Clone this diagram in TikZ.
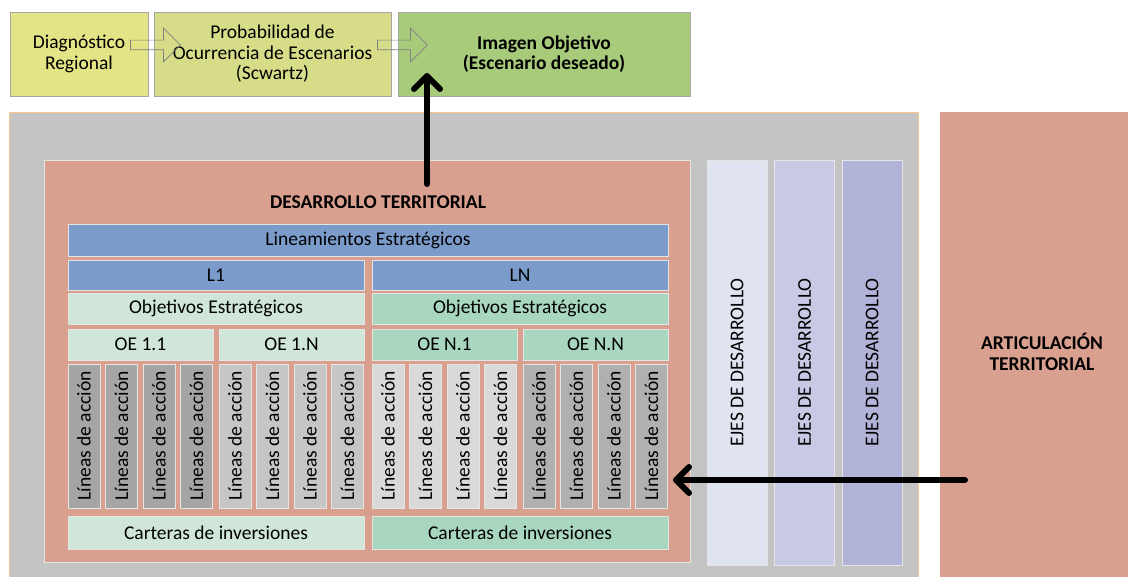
\documentclass[tikz,border=0pt]{standalone}
\usepackage{fontspec}
\setmainfont{Carlito}
\usetikzlibrary{arrows.meta,shapes.arrows}
\definecolor{diagc}{HTML}{E3E486}
\definecolor{probc}{HTML}{D6DC87}
\definecolor{imgc}{HTML}{A8CB7B}
\definecolor{panelc}{HTML}{C4C4C4}
\definecolor{salmon}{HTML}{D9A08F}
\definecolor{bluec}{HTML}{7B9CCB}
\definecolor{lgreen}{HTML}{CFE6D8}
\definecolor{mint}{HTML}{A8D6BE}
\definecolor{ejea}{HTML}{E0E3F0}
\definecolor{ejeb}{HTML}{C8C9E4}
\definecolor{ejec}{HTML}{B1B4D8}
\definecolor{grisa}{HTML}{A5A5A5}
\definecolor{grisb}{HTML}{C6C6C6}
\definecolor{grisc}{HTML}{D9D9D9}
\definecolor{grisd}{HTML}{B0B0B0}
\begin{document}
\begin{tikzpicture}[x=1pt,y=-1pt,every node/.style={font=\fontsize{19.5}{20.5}\selectfont,align=center,inner sep=0pt},
  topbox/.style={draw=gray!70,line width=0.8pt,minimum height=84},
  cell/.style={draw=white!80!gray,line width=0.8pt},
  bar/.style={cell,minimum width=296},
  linea/.style={cell,minimum width=144,minimum height=32,rotate=90},
  chev/.style={single arrow,draw=gray,line width=0.7pt,inner ysep=4.5pt,single arrow head extend=12pt,minimum height=50},
  bigarrow/.style={line width=6pt,line cap=round,-{Straight Barb[length=13pt,width=26pt,round]}}]
\useasboundingbox (0,0) rectangle (1128,577);
\node[topbox,fill=diagc,minimum width=138] (diag) at (79,54) {Diagnóstico\\Regional};
\node[topbox,fill=probc,minimum width=237] (prob) at (272.5,54) {Probabilidad de\\Ocurrencia de Escenarios\\(Scwartz)};
\node[topbox,fill=imgc,minimum width=292] (img) at (544,54) {\textbf{Imagen Objetivo}\\\textbf{(Escenario deseado)}};
\node[chev] (chev1) at (153,45) {};
\node[chev] (chev2) at (400,45) {};
\node[fill=panelc,draw=orange!45,line width=0.8pt,minimum width=909,minimum height=470] (panel) at (463.5,347) {};
\node[fill=salmon,minimum width=204,minimum height=480] (art) at (1042,352) {\textbf{ARTICULACIÓN}\\\textbf{TERRITORIAL}};
\node[cell,fill=salmon,minimum width=646,minimum height=402] (dt) at (367,361) {};
\node (dtlabel) at (378,202) {\textbf{DESARROLLO TERRITORIAL}};
\foreach \i/\c in {0/ejea,1/ejeb,2/ejec}
  \node[cell,fill=\c,minimum width=60,minimum height=405] (eje\i) at (737+\i*67.5,362.5) {\rotatebox{90}{EJES DE DESARROLLO}};
\node[cell,fill=bluec,minimum width=600,minimum height=32] (lin) at (368,240) {Lineamientos Estratégicos};
\node[bar,fill=bluec,minimum height=30] (l1) at (216,275) {L1};
\node[bar,fill=bluec,minimum height=30] (ln) at (520,275) {LN};
\node[bar,fill=lgreen,minimum height=31] (obj1) at (216,308.5) {Objetivos Estratégicos};
\node[bar,fill=mint,minimum height=31] (objn) at (520,308.5) {Objetivos Estratégicos};
\foreach \x/\t/\c [count=\k] in {140.5/OE 1.1/lgreen,291.5/OE 1.N/lgreen,444.5/OE N.1/mint,595.5/OE N.N/mint}
  \node[cell,fill=\c,minimum width=145,minimum height=31] (oe\k) at (\x,344.5) {\t};
\foreach \s/\c [count=\g] in {68/grisa,219/grisb,372/grisc,523/grisd}
  \foreach \i in {0,...,3}
    \node[linea,fill=\c] (la\g\i) at (\s+16+\i*37.5,436) {Líneas de acción};
\node[bar,fill=lgreen,minimum height=33] (car1) at (216,532.5) {Carteras de inversiones};
\node[bar,fill=mint,minimum height=33] (carn) at (520,532.5) {Carteras de inversiones};
\coordinate (upstart) at (427,184);
\coordinate (uptip) at (427,73);
\draw[bigarrow] (upstart) -- (uptip);
\coordinate (artail) at (965,480);
\coordinate (artip) at (673,480);
\draw[bigarrow] (artail) -- (artip);
\end{tikzpicture}
\end{document}
